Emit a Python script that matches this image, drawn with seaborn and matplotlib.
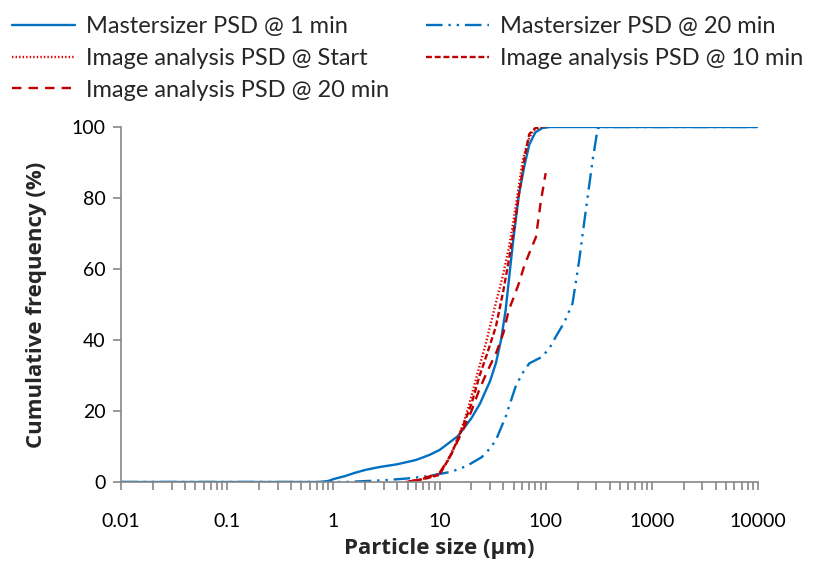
import numpy as np
import pandas as pd
import matplotlib
matplotlib.use("Agg")
import matplotlib.pyplot as plt
import seaborn as sns
from matplotlib.ticker import FixedLocator, FuncFormatter, LogLocator, NullFormatter

# ---- data ----
ms1_size = [0.01, 0.1, 0.5, 0.75, 0.9, 1, 1.3, 1.6, 2, 2.7, 4, 6, 8, 10, 15, 20, 24, 30, 34, 38, 42, 49, 56, 63, 70, 80, 93, 110, 200, 1000, 10000]
ms1_cum = [0, 0, 0, 0, 0.3, 0.8, 1.7, 2.6, 3.4, 4.2, 5.0, 6.2, 7.6, 9.0, 13.0, 18.0, 22.0, 28.5, 33.5, 40.0, 48.5, 67.0, 81.0, 89.0, 95.0, 98.5, 99.7, 100, 100, 100, 100]

ms20_size = [0.01, 0.1, 1, 1.3, 3, 5, 8, 13, 18, 25, 30, 34, 42, 52, 60, 70, 93, 110, 125, 150, 179, 207, 239, 277, 309, 330, 1000, 10000]
ms20_cum = [0, 0, 0, 0, 0.5, 1.0, 1.7, 2.9, 4.5, 7.0, 9.5, 11.8, 18.4, 26.8, 30.5, 33.4, 35.3, 38.0, 41.0, 45.0, 50.3, 62.5, 76.6, 90.7, 99.6, 100, 100, 100]

ia0_size = [4.8, 6, 8, 10, 12, 14.3, 17, 19.1, 23, 27.3, 33, 39.3, 45, 48.8, 55, 60.8, 68, 76, 90, 100]
ia0_cum = [0, 0.5, 1.2, 2.5, 6, 11, 17, 22, 31, 39, 49, 57.8, 66, 72, 82, 90.7, 96, 99, 100, 100]

ia10_size = [5, 7, 10, 13, 16.6, 20, 23.7, 28, 34, 40, 45, 50, 56, 63, 70, 80, 93]
ia10_cum = [0, 0.8, 2, 8, 15.6, 22, 29.7, 36, 43.8, 54, 62.5, 71, 81, 91, 98, 99.7, 100]

ia20_size = [5, 7, 10, 13, 16.6, 20, 23.7, 28, 34, 40, 45, 50, 56, 63, 70, 81, 90, 100]
ia20_cum = [0, 1, 2.5, 8, 14.6, 20, 26, 31, 36.2, 42, 48.5, 52, 56, 61, 64.4, 69, 79, 87]

labels = ["Mastersizer PSD @ 1 min", "Mastersizer PSD @ 20 min",
          "Image analysis PSD @ Start", "Image analysis PSD @ 10 min",
          "Image analysis PSD @ 20 min"]
x_ticks = [0.01, 0.1, 1, 10, 100, 1000, 10000]
y_ticks = [0, 20, 40, 60, 80, 100]

sns.set_style("white")
plt.rcParams['font.family'] = ['Lato', 'DejaVu Sans']

fig = plt.figure(figsize=(8.15, 5.67), dpi=100)
ax = fig.add_axes([121/815, 1-482/567, (758-121)/815, (482-127)/567])

BLUE = "#0070C0"
RED = "#C00000"
REDL = "#E00000"

series = [
    (ms1_size, ms1_cum, labels[0], BLUE, (None, None), 1.7),
    (ms20_size, ms20_cum, labels[1], BLUE, (7, 2.5, 1, 2.5, 1, 2.5), 1.7),
    (ia0_size, ia0_cum, labels[2], REDL, (0.6, 0.9), 1.7),
    (ia10_size, ia10_cum, labels[3], RED, (2.5, 1.2), 1.7),
    (ia20_size, ia20_cum, labels[4], RED, (4, 3), 1.7),
]
handles = {}
for xs, ys, lab, col, dash, lw in series:
    df = pd.DataFrame({"size": xs, "cum": ys})
    sns.lineplot(data=df, x="size", y="cum", ax=ax, color=col, lw=lw, label=lab, sort=False)
    ln = ax.lines[-1]
    if dash[0] is not None:
        ln.set_dashes(dash)
    handles[lab] = ln

ax.set_xscale("log")
ax.set_xlim(0.01, 10000)
ax.set_ylim(0, 100)
ax.xaxis.set_major_locator(FixedLocator(x_ticks))
ax.xaxis.set_major_formatter(FuncFormatter(lambda v, p: "%g" % v))
ax.xaxis.set_minor_locator(LogLocator(base=10, subs=np.arange(2, 10), numticks=100))
ax.xaxis.set_minor_formatter(NullFormatter())
ax.yaxis.set_major_locator(FixedLocator(y_ticks))

GRAY = "#868686"
for s in ["top", "right"]:
    ax.spines[s].set_visible(False)
for s in ["left", "bottom"]:
    ax.spines[s].set_color(GRAY)
    ax.spines[s].set_linewidth(1.2)
ax.tick_params(axis="both", which="major", direction="out", length=6, width=1.2, color=GRAY,
               labelsize=14, labelcolor="black", bottom=True, left=True)
ax.tick_params(axis="x", which="minor", direction="out", length=6, width=1.2, color=GRAY, bottom=True)
ax.tick_params(axis="x", which="major", pad=16)
ax.tick_params(axis="y", which="major", pad=5)

ax.set_xlabel("Particle size (µm)", fontsize=16, fontweight="bold", labelpad=6,
              family=["Open Sans", "DejaVu Sans"])
ax.set_ylabel("Cumulative frequency (%)", fontsize=16, fontweight="bold", labelpad=18,
              family=["Open Sans", "DejaVu Sans"])

order = [labels[0], labels[2], labels[4], labels[1], labels[3]]
ax.legend([handles[l] for l in order], order, ncol=2, frameon=False, fontsize=17,
          loc="upper left", bbox_to_anchor=((12-121)/637, 1 + (127-16)/355),
          handlelength=2.65, handletextpad=0.5, columnspacing=1.55, labelspacing=0.46,
          borderaxespad=0, borderpad=0)

fig.savefig("out.png", dpi=100)
